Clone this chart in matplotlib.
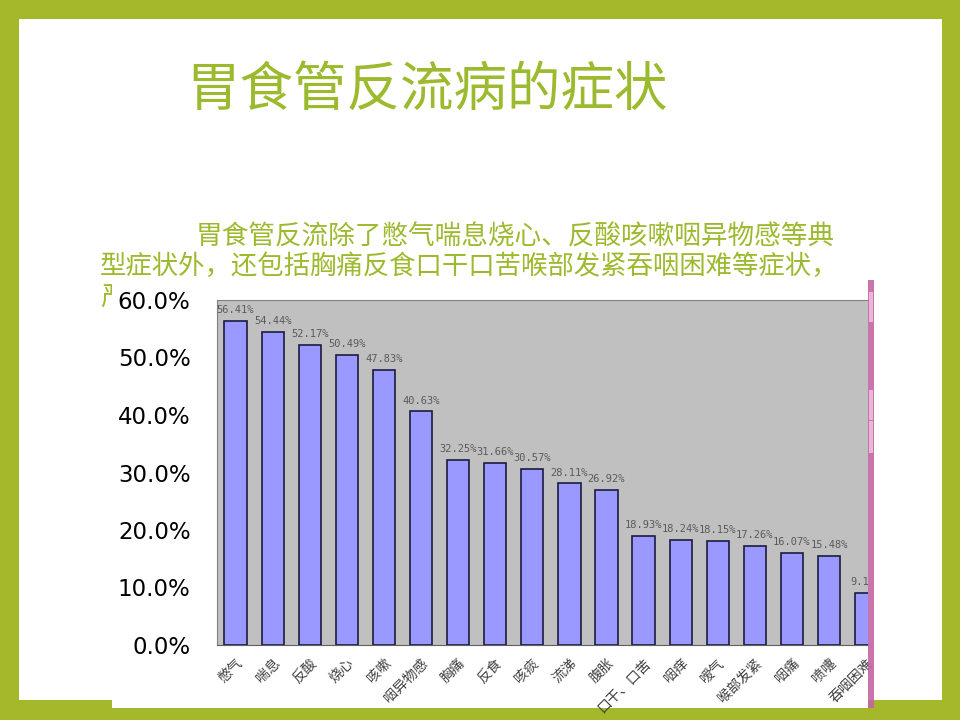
import matplotlib
matplotlib.use("Agg")
import matplotlib.pyplot as plt
from matplotlib.patches import Rectangle

plt.rcParams['font.family'] = ['Noto Sans CJK SC', 'DejaVu Sans']

# --- data ---
categories = ["憋气", "喘息", "反酸", "烧心", "咳嗽", "咽异物感", "胸痛", "反食", "咳痰",
              "流涕", "腹胀", "口干、口苦", "咽痒", "嗳气", "喉部发紧", "咽痛", "喷嚏", "吞咽困难"]
values = [56.41, 54.44, 52.17, 50.49, 47.83, 40.63, 32.25, 31.66, 30.57,
          28.11, 26.92, 18.93, 18.24, 18.15, 17.26, 16.07, 15.48, 9.13]
yticks = [0, 10, 20, 30, 40, 50, 60]

title = "胃食管反流病的症状"
para = ["胃食管反流除了憋气喘息烧心、反酸咳嗽咽异物感等典",
        "型症状外，还包括胸痛反食口干口苦喉部发紧吞咽困难等症状，",
        "严重者可影响患者的睡眠和生活质量。"]

GREEN = "#a5b829"
TEXT_GREEN = "#9cba2e"

fig = plt.figure(figsize=(9.6, 7.2), dpi=100, facecolor=GREEN)

# slide background, pixel coords
bg = fig.add_axes([0, 0, 1, 1])
bg.set_xlim(0, 960)
bg.set_ylim(720, 0)
bg.axis("off")
bg.add_patch(Rectangle((19, 19), 923, 681, color="white", lw=0))
bg.text(427, 90, title, fontsize=38.5, color=TEXT_GREEN, ha="center", va="center")
bg.text(196, 237, para[0], fontsize=19.2, color=TEXT_GREEN, ha="left", va="center")
bg.text(100, 266, para[1], fontsize=19.0, color=TEXT_GREEN, ha="left", va="center")
bg.text(100, 297, para[2], fontsize=19.0, color=TEXT_GREEN, ha="left", va="center")
# pasted chart picture covers the third line
bg.add_patch(Rectangle((112, 281), 756, 427, color="white", lw=0, zorder=3))

# chart
ax = fig.add_axes([217 / 960, (720 - 645) / 720, (868 - 217) / 960, (645 - 300) / 720])
ax.set_facecolor("#c0c0c0")
x = list(range(len(categories)))
ax.bar(x, values, width=0.6, color="#9999ff", edgecolor="#1c1c40", linewidth=1.2)
for xi, v in zip(x, values):
    ax.text(xi, v + 1.0, f"{v:.2f}%", ha="center", va="bottom", fontsize=7.5,
            family="DejaVu Sans Mono", color="#5a5a5a", clip_on=True)

ax.set_xlim(-0.5, 17.05)
ax.set_ylim(0, 60)
ax.set_yticks(yticks)
ax.set_yticklabels([f"{t:.1f}%" for t in yticks], fontsize=16.5, family="DejaVu Sans", color="black")
ax.tick_params(axis="y", length=0, pad=19)
ax.set_xticks(x)
ax.set_xticklabels(categories, rotation=45, ha="right", rotation_mode="anchor",
                   fontsize=10, color="#404040")
ax.tick_params(axis="x", length=0, pad=8)
for s in ["left", "top"]:
    ax.spines[s].set_color("#808080")
ax.spines["bottom"].set_color("#606060")
ax.spines["right"].set_visible(False)

# pink edge strip of the pasted picture
strip = fig.add_axes([0, 0, 1, 1], facecolor="none")
strip.set_xlim(0, 960)
strip.set_ylim(720, 0)
strip.axis("off")
strip.add_patch(Rectangle((868, 280), 6, 428, color="#c465a4", lw=0, alpha=0.9))
for y0, h in [(292, 30), (390, 30), (421, 32)]:
    strip.add_patch(Rectangle((869, y0), 4, h, color="#e8b8d8", lw=0))
strip.add_patch(Rectangle((874, 282), 68, 418, color="white", lw=0))

fig.savefig("out.png", dpi=100, facecolor=GREEN)
